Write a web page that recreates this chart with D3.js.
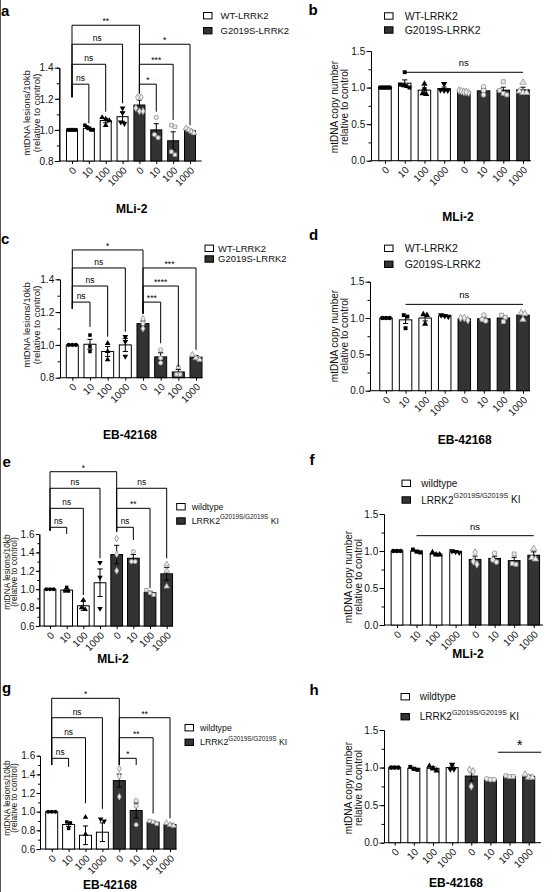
<!DOCTYPE html>
<html>
<head>
<meta charset="utf-8">
<script src="https://cdn.jsdelivr.net/npm/d3@7"></script>
<style>
  body { margin: 0; background: #fff; }
  svg { display: block; }
</style>
</head>
<body>
<svg width="556" height="892"></svg>
<script>
// ---- data ----
const doses = ["0", "10", "100", "1000"];
const oeLabels = ["WT-LRRK2", "G2019S-LRRK2"];
const kiLabels = ["wildtype", "LRRK2"];
const kiSup = "G2019S/G2019S";
const kiSuffix = " KI";
const lesionTitle = ["mtDNA lesions/10kb", "(relative to control)"];
const copyTitle = ["mtDNA copy number", "relative to control"];
const drugs = ["MLi-2", "EB-42168"];

// a: lesions, MLi-2, overexpression
const aMean = [1.00, 1.01, 1.06, 1.085, 1.16, 1.00, 0.93, 0.995];
const aSem = [0.002, 0.008, 0.014, 0.03, 0.03, 0.04, 0.058, 0.008];
const aPts = [[1, 1, 1, 1, 1], [1.0, 1.0, 1.01, 1.02, 1.03], [1.08, 1.07, 1.06, 1.03], [1.14, 1.11, 1.05, 1.04],
  [1.21, 1.21, 1.14, 1.12, 1.12], [1.08, 0.97, 0.95], [1.03, 1.02, 0.86, 0.84], [1.01, 1.0, 0.99, 0.98]];
const aBrk = [[0, 4, "**", 1.673, 1.21, 1.235], [0, 3, "ns", 1.551, 1.21, 1.171], [4, 7, "*", 1.551, 1.235, 1.03],
  [0, 2, "ns", 1.422, 1.21, 1.117], [4, 6, "***", 1.422, 1.235, 1.064], [0, 1, "ns", 1.294, 1.21, 1.042],
  [4, 5, "*", 1.294, 1.235, 1.117]];

// b: copy number, MLi-2, overexpression
const bMean = [1.00, 1.06, 0.965, 0.985, 0.945, 0.955, 0.965, 0.97];
const bSem = [0.003, 0.045, 0.03, 0.022, 0.01, 0.03, 0.04, 0.035];
const bPts = [[1, 1, 1, 1, 1], [1.21, 1.04, 1.03, 1.02, 1.0], [1.05, 0.98, 0.92, 0.91], [1.05, 0.97, 0.96, 0.96],
  [0.96, 0.95, 0.94, 0.93, 0.94], [1.01, 0.96, 0.90], [1.08, 0.96, 0.92, 0.90], [1.07, 0.95, 0.93, 0.93]];
const bLine = [1, 7, "ns", 1.209];

// c: lesions, EB-42168, overexpression
const cMean = [1.00, 1.004, 0.96, 1.00, 1.13, 0.927, 0.835, 0.925];
const cSem = [0.002, 0.03, 0.03, 0.04, 0.016, 0.025, 0.015, 0.01];
const cPts = [[1, 1, 1], [1.06, 0.99, 0.96], [1.01, 0.96, 0.91], [1.05, 1.02, 0.93],
  [1.16, 1.13, 1.10], [0.97, 0.92, 0.89], [0.865, 0.82, 0.82], [0.94, 0.92, 0.91]];
const cBrk = [[0, 4, "*", 1.579, 1.22, 1.19], [0, 3, "ns", 1.469, 1.22, 1.08], [4, 7, "***", 1.469, 1.19, 0.97],
  [0, 2, "ns", 1.359, 1.22, 1.05], [4, 6, "****", 1.359, 1.19, 0.865], [0, 1, "ns", 1.261, 1.22, 1.11],
  [4, 5, "***", 1.261, 1.19, 1.01]];

// d: copy number, EB-42168, overexpression
const dMean = [1.00, 0.975, 1.00, 1.03, 0.99, 0.99, 1.00, 1.04];
const dSem = [0.003, 0.05, 0.04, 0.01, 0.01, 0.02, 0.03, 0.03];
const dPts = [[1, 1, 1], [1.04, 1.02, 0.86], [1.05, 1.04, 0.92], [1.04, 1.03, 1.02],
  [1.0, 1.0, 0.97], [1.04, 0.98, 0.96], [1.04, 1.01, 0.95], [1.07, 1.06, 0.98]];
const dLine = [1, 7, "ns", 1.188];

// e: lesions, MLi-2, knock-in
const eMean = [1.00, 0.99, 0.82, 1.07, 1.377, 1.337, 0.963, 1.167];
const eSem = [0.003, 0.015, 0.05, 0.15, 0.10, 0.04, 0.015, 0.07];
const ePts = [[1, 1, 1], [1.02, 0.98, 0.98], [0.88, 0.80, 0.78], [1.29, 1.13, 0.79],
  [1.55, 1.38, 1.2], [1.41, 1.30, 1.30], [0.99, 0.96, 0.94], [1.27, 1.2, 1.03]];
const eBrk = [[0, 4, "*", 2.277, 1.636, 1.625], [0, 3, "ns", 2.097, 1.636, 1.336], [4, 7, "ns", 2.097, 1.625, 1.336],
  [0, 2, "ns", 1.879, 1.636, 0.937], [4, 6, "**", 1.879, 1.625, 1.01], [0, 1, "ns", 1.673, 1.636, 1.6],
  [4, 5, "ns", 1.673, 1.625, 1.535]];

// f: copy number, MLi-2, knock-in
const fMean = [1.00, 1.00, 0.96, 0.99, 0.886, 0.90, 0.87, 0.943];
const fSem = [0.003, 0.012, 0.01, 0.01, 0.045, 0.03, 0.045, 0.045];
const fPts = [[1, 1, 1], [1.02, 0.99, 0.98], [0.98, 0.95, 0.95], [1.0, 0.99, 0.98],
  [0.98, 0.86, 0.82], [0.97, 0.88, 0.85], [0.96, 0.83, 0.82], [1.03, 0.91, 0.89]];
const fLine = [1, 7, "ns", 1.207];

// g: lesions, EB-42168, knock-in
const gMean = [1.00, 0.863, 0.747, 0.78, 1.333, 1.013, 0.887, 0.863];
const gSem = [0.003, 0.02, 0.1, 0.1, 0.07, 0.08, 0.01, 0.01];
const gPts = [[1, 1, 1], [0.89, 0.88, 0.82], [0.94, 0.76, 0.54], [0.92, 0.90, 0.52],
  [1.46, 1.38, 1.16], [1.12, 1.06, 0.86], [0.90, 0.89, 0.87], [0.88, 0.86, 0.85]];
const gBrk = [[0, 4, "*", 2.215, 1.5, 1.5], [0, 3, "ns", 2.007, 1.5, 1.03], [4, 7, "**", 2.007, 1.5, 0.93],
  [0, 2, "ns", 1.793, 1.5, 1.09], [4, 6, "**", 1.793, 1.5, 0.98], [0, 1, "ns", 1.572, 1.5, 1.48],
  [4, 5, "*", 1.572, 1.5, 1.5]];

// h: copy number, EB-42168, knock-in
const hMean = [1.00, 0.99, 0.99, 1.00, 0.887, 0.843, 0.883, 0.883];
const hSem = [0.003, 0.015, 0.02, 0.02, 0.065, 0.005, 0.005, 0.015];
const hPts = [[1, 1, 1], [1.01, 0.98, 0.97], [1.02, 0.99, 0.96], [1.04, 0.98, 0.98],
  [0.97, 0.95, 0.75], [0.85, 0.84, 0.84], [0.89, 0.88, 0.88], [0.91, 0.87, 0.87]];
const hLine = [5.4, 7.65, "*", 1.204];

// ---- drawing ----
const FONT = "'Liberation Sans', Arial, sans-serif";
const DARK = "#333";
const svg = d3.select("svg");

svg.append("line").attr("x1", 0.5).attr("x2", 0.5).attr("y1", 0).attr("y2", 892)
  .attr("stroke", "#555").attr("stroke-width", 1);

const symbolOf = [d3.symbolCircle, d3.symbolSquare, d3.symbolTriangle, d3.symbolTriangle,
  d3.symbolDiamond, d3.symbolCircle, d3.symbolSquare, d3.symbolTriangle];

function steps(lo, hi, st) {
  const n = Math.round((hi - lo) / st);
  return d3.range(n + 1).map(k => +(lo + k * st).toFixed(4));
}

// spread points that sit at nearly the same height side by side
function offsets(ys, bw) {
  const idx = d3.range(ys.length).sort((p, q) => ys[p] - ys[q]);
  const out = new Array(ys.length).fill(0);
  let cl = [];
  const flush = () => {
    const m = cl.length;
    const st = m > 1 ? Math.min(3.6, (bw - 3) / (m - 1)) : 0;
    cl.forEach((k, j) => out[k] = (j - (m - 1) / 2) * st);
    cl = [];
  };
  idx.forEach(k => {
    if (cl.length && Math.abs(ys[k] - ys[cl[cl.length - 1]]) > 3.5) flush();
    cl.push(k);
  });
  flush();
  return out;
}

function drawPanel(L, mean, sem, pts, brk, line, legend, drug, ytitle) {
  const g = svg.append("g");
  const y = d3.scaleLinear().domain(L.dom).range(L.yr);
  const x = d3.scaleLinear().domain([0, 7]).range([L.x0, L.x7]);
  const y0 = y(L.dom[0]);

  // y axis, minor then major
  g.append("g").attr("transform", `translate(${L.axisX},0)`)
    .call(d3.axisLeft(y).tickValues(steps(L.dom[0], L.dom[1], L.major / 2)).tickSize(L.tsz * 0.55).tickFormat("").tickSizeOuter(0));
  g.append("g").attr("transform", `translate(${L.axisX},0)`)
    .attr("font-family", FONT).attr("font-size", L.tf)
    .call(d3.axisLeft(y).tickValues(steps(L.dom[0], L.dom[1], L.major)).tickSize(L.tsz)
      .tickFormat(d3.format(".1f")).tickSizeOuter(0))
    .call(a => a.selectAll("text").attr("fill", "#111").attr("x", -L.tsz - 1.3));

  // x axis
  const xa = g.append("g").attr("transform", `translate(0,${y0})`)
    .attr("font-family", FONT).attr("font-size", L.xf)
    .call(d3.axisBottom(x).tickValues(d3.range(8)).tickFormat(i => doses[i % 4]).tickSize(3).tickSizeOuter(0));
  xa.select(".domain").attr("d", `M${L.axisX},0H${L.xEnd}`);
  xa.selectAll("text").attr("fill", "#111").attr("text-anchor", "end")
    .attr("x", 0).attr("y", 0).attr("dy", "0.35em").attr("transform", "translate(2,7.5) rotate(-45)");

  // bars
  g.selectAll("rect.bar").data(mean).join("rect").attr("class", "bar")
    .attr("x", (d, i) => x(i) - L.bw / 2).attr("y", d => y(d))
    .attr("width", L.bw).attr("height", d => y0 - y(d))
    .attr("fill", (d, i) => i < 4 ? "#fff" : DARK).attr("stroke", "#000").attr("stroke-width", 1);

  // error bars (mean +/- SEM)
  g.selectAll("path.err").data(mean).join("path").attr("class", "err")
    .attr("d", (d, i) => {
      const xc = x(i), t = y(d + sem[i]), b = y(d - sem[i]), c = 2.6;
      return `M${xc},${b}V${t}M${xc - c},${t}H${xc + c}M${xc - c},${b}H${xc + c}`;
    })
    .attr("fill", "none").attr("stroke", "#000").attr("stroke-width", 1);

  // individual points
  pts.forEach((col, i) => {
    const vis = col.filter(v => v >= L.dom[0]);
    const off = offsets(vis.map(v => y(v)), L.bw);
    const sym = d3.symbol().type(symbolOf[i]).size(i === 1 || i === 6 ? L.ms * 0.9 : L.ms);
    g.selectAll(null).data(vis).join("path")
      .attr("d", sym)
      .attr("transform", (v, k) => `translate(${x(i) + off[k]},${y(v)})` + (i === 3 ? " rotate(180)" : ""))
      .attr("fill", i < 4 ? "#000" : "#ececec")
      .attr("stroke", i < 4 ? "none" : "#999").attr("stroke-width", 0.9);
  });

  // comparison brackets
  if (brk) {
    brk.forEach(([i, j, lab, lv, li, lj]) => {
      g.append("path")
        .attr("d", `M${x(i)},${y(li)}V${y(lv)}H${x(j)}V${y(lj)}`)
        .attr("fill", "none").attr("stroke", "#000").attr("stroke-width", 1);
      g.append("text").attr("x", (x(i) + x(j)) / 2).attr("y", y(lv) - (lab === "ns" ? 3 : 1))
        .attr("text-anchor", "middle").attr("font-family", FONT).attr("font-size", L.bf)
        .text(lab);
    });
  }
  if (line) {
    const [i, j, lab, lv] = line;
    g.append("path").attr("d", `M${x(i)},${y(lv)}H${x(j)}`)
      .attr("stroke", "#000").attr("stroke-width", 1);
    g.append("text").attr("x", (x(i) + x(j)) / 2).attr("y", y(lv) - (lab === "ns" ? 6 : 2))
      .attr("text-anchor", "middle").attr("font-family", FONT).attr("font-size", lab === "ns" ? L.bf : 15)
      .text(lab);
  }

  // legend
  const lg = g.append("g").attr("font-family", FONT).attr("font-size", L.lf).attr("fill", "#111");
  [L.ly1, L.ly2].forEach((ly, k) => {
    lg.append("rect").attr("x", L.lbx).attr("y", ly - 3.2).attr("width", 8.5).attr("height", 6.4)
      .attr("fill", k ? DARK : "#fff").attr("stroke", "#000").attr("stroke-width", 1);
    const t = lg.append("text").attr("x", L.ltx).attr("y", ly).attr("dy", "0.35em").text(legend[k]);
    if (k === 1 && legend === kiLabels) {
      t.append("tspan").attr("font-size", L.lf * 0.72).attr("dy", "-0.75em").text(kiSup);
      t.append("tspan").attr("dy", "0.5em").text(kiSuffix);
    }
  });

  // axis title (two lines, rotated)
  ytitle.forEach((s, k) => {
    g.append("text").attr("transform", `translate(${L.tcx + (k ? L.tsp : -L.tsp) + 3},${L.tcy}) rotate(-90)`)
      .attr("text-anchor", "middle").attr("font-family", FONT).attr("font-size", L.yf).attr("fill", "#111")
      .text(s);
  });

  // drug title and panel letter
  g.append("text").attr("x", L.dx).attr("y", L.dy).attr("text-anchor", "middle")
    .attr("font-family", FONT).attr("font-weight", "bold").attr("font-size", L.df).text(drug);
  g.append("text").attr("x", L.px).attr("y", L.py)
    .attr("font-family", FONT).attr("font-weight", "bold").attr("font-size", 15).text(L.letter);
}

const topLeft = { tf: 10, xf: 9, yf: 9.5, lf: 9.5, bf: 8.5, df: 12, ms: 14, tsz: 4.5, tsp: 5 };
const lowLeft = { tf: 8.6, xf: 8.6, yf: 8.4, lf: 8.8, bf: 8.3, df: 12, ms: 13, tsz: 3.5, tsp: 3.7 };
const right = { tf: 10.5, xf: 9, yf: 10, lf: 10.5, bf: 9.5, df: 12, ms: 17, tsz: 4.5, tsp: 5 };

const layA = Object.assign({}, topLeft, { letter: "a", px: 1, py: 15.5, axisX: 59.3, x0: 72, x7: 190, xEnd: 201.7, bw: 11,
  dom: [0.8, 1.4], yr: [161, 67.7], major: 0.2, lbx: 203.5, ly1: 15.7, ly2: 30.7, ltx: 220.5,
  tcx: 32, tcy: 113, dx: 131.7, dy: 212.5 });
const layB = Object.assign({}, right, { letter: "b", px: 308.5, py: 15, axisX: 371, x0: 385, x7: 523, xEnd: 531, bw: 12.5,
  dom: [0, 1.5], yr: [160.7, 51], major: 0.5, lbx: 384.5, ly1: 16, ly2: 30, ltx: 404.7,
  tcx: 339.5, tcy: 107, dx: 458, dy: 220.5 });
const layC = Object.assign({}, topLeft, { letter: "c", px: 1, py: 243.5, axisX: 60, x0: 72.3, x7: 196, xEnd: 202.5, bw: 12,
  dom: [0.8, 1.4], yr: [377.7, 279.3], major: 0.2, lbx: 205, ly1: 248.3, ly2: 259, ltx: 218,
  tcx: 32, tcy: 325, dx: 130, dy: 439 });
const layD = Object.assign({}, right, { letter: "d", px: 309, py: 240, axisX: 370, x0: 386, x7: 523, xEnd: 530, bw: 12.5,
  dom: [0, 1.5], yr: [390.7, 281.7], major: 0.5, lbx: 384.5, ly1: 248.3, ly2: 264.3, ltx: 404.7,
  tcx: 339.5, tcy: 336, dx: 464.7, dy: 444 });
const layE = Object.assign({}, lowLeft, { letter: "e", px: 2.5, py: 467, axisX: 39.3, x0: 50, x7: 166.7, xEnd: 173, bw: 11.7,
  dom: [0.6, 1.6], yr: [626, 534], major: 0.2, lbx: 176.7, ly1: 506.7, ly2: 521, ltx: 191.7,
  tcx: 10.5, tcy: 572, dx: 113, dy: 662.5 });
const layF = Object.assign({}, right, { letter: "f", px: 309.5, py: 465, axisX: 384, x0: 397, x7: 533.7, xEnd: 543, bw: 11.7,
  dom: [0, 1.5], yr: [625, 514], major: 0.5, lbx: 402, ly1: 483.3, ly2: 500, ltx: 421.3, lf: 10,
  tcx: 354, tcy: 577, dx: 468, dy: 657.5 });
const layG = Object.assign({}, lowLeft, { letter: "g", px: 2, py: 693, axisX: 40, x0: 51.7, x7: 170, xEnd: 176.5, bw: 12,
  dom: [0.6, 1.6], yr: [849, 755.7], major: 0.2, lbx: 185, ly1: 727.7, ly2: 742.3, ltx: 200,
  tcx: 10.5, tcy: 798, dx: 110, dy: 889 });
const layH = Object.assign({}, right, { letter: "h", px: 309.5, py: 695, axisX: 384, x0: 394.7, x7: 528.7, xEnd: 541, bw: 12,
  dom: [0, 1.5], yr: [842.7, 730], major: 0.5, lbx: 401, ly1: 696.7, ly2: 716.7, ltx: 419.7, lf: 10,
  tcx: 354, tcy: 788, dx: 456, dy: 887 });

drawPanel(layA, aMean, aSem, aPts, aBrk, null, oeLabels, drugs[0], lesionTitle);
drawPanel(layB, bMean, bSem, bPts, null, bLine, oeLabels, drugs[0], copyTitle);
drawPanel(layC, cMean, cSem, cPts, cBrk, null, oeLabels, drugs[1], lesionTitle);
drawPanel(layD, dMean, dSem, dPts, null, dLine, oeLabels, drugs[1], copyTitle);
drawPanel(layE, eMean, eSem, ePts, eBrk, null, kiLabels, drugs[0], lesionTitle);
drawPanel(layF, fMean, fSem, fPts, null, fLine, kiLabels, drugs[0], copyTitle);
drawPanel(layG, gMean, gSem, gPts, gBrk, null, kiLabels, drugs[1], lesionTitle);
drawPanel(layH, hMean, hSem, hPts, null, hLine, kiLabels, drugs[1], copyTitle);
</script>
</body>
</html>
